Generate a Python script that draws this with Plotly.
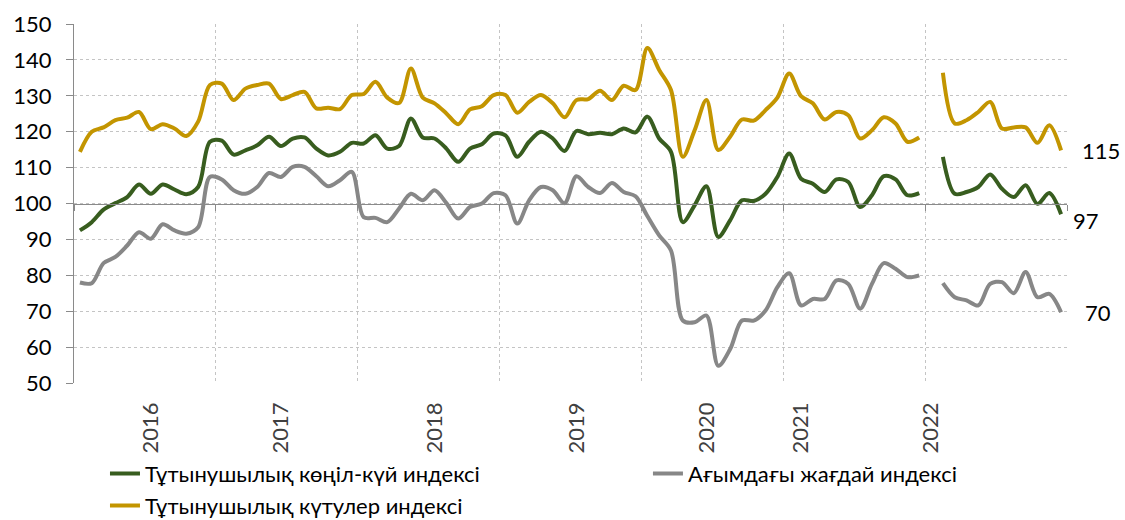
import plotly.graph_objects as go

# Monthly index positions (Jan 2016 .. Dec 2022)
months = list(range(84))

year_label_pos = [6, 17, 30, 42, 53, 61, 72]
year_labels = ["2016", "2017", "2018", "2019", "2020", "2021", "2022"]
year_bounds = [-0.5, 11.5, 23.5, 35.5, 47.5, 59.5, 71.5, 83.5]

sentiment = [
    92.5, 94.8, 98.3, 100.1, 101.8, 105.3, 102.7, 105.3, 103.9, 102.6, 104.6, 117.2,
    117.5, 113.6, 114.8, 116.2, 118.6, 116.0, 118.1, 118.4, 115.3, 113.4, 114.4, 116.9,
    116.7, 119.0, 115.3, 116.0, 123.7, 118.4, 118.1, 115.3, 111.6, 115.3, 116.5, 119.5,
    119.0, 113.0, 117.2, 120.0, 118.1, 114.6, 120.2, 119.3, 119.7, 119.3, 120.9, 119.8,
    124.2, 118.1, 114.4, 94.8, 99.5, 104.8, 90.7, 95.3, 100.9, 100.7, 102.7, 107.4,
    113.9, 106.9, 105.5, 103.2, 106.7, 106.0, 99.0, 102.3, 107.6, 106.7, 102.3, 102.9,
    None, 113.0, 102.7, 103.2, 104.6, 108.1, 104.1, 101.8, 105.1, 99.9, 102.9, 97.0,
]

current = [
    78.0, 77.8, 83.4, 85.1, 88.3, 92.0, 90.2, 94.2, 92.5, 91.6, 93.4, 107.4,
    106.7, 103.7, 102.7, 104.6, 108.5, 107.4, 110.2, 110.2, 107.6, 104.8, 106.5, 108.8,
    96.2, 96.0, 94.8, 98.6, 102.7, 100.9, 103.7, 100.1, 95.8, 99.0, 100.0, 102.9,
    102.3, 94.4, 100.9, 104.6, 103.7, 100.1, 107.6, 104.6, 102.9, 105.7, 103.2, 102.0,
    96.5, 91.1, 86.9, 67.4, 66.9, 68.8, 54.8, 59.4, 67.4, 67.4, 70.2, 76.7,
    80.6, 71.6, 73.4, 73.4, 78.6, 77.6, 70.7, 77.6, 83.4, 81.8, 79.5, 80.0,
    None, 77.8, 73.9, 73.0, 71.6, 77.6, 78.1, 75.0, 80.9, 73.9, 74.8, 69.7,
]

expectations = [
    114.4, 120.0, 121.2, 123.2, 123.9, 125.5, 120.7, 122.1, 120.9, 118.8, 122.8, 133.0,
    133.4, 128.8, 132.0, 133.0, 133.4, 129.1, 130.2, 131.1, 126.5, 126.7, 126.3, 130.2,
    130.5, 133.9, 129.5, 128.0, 137.6, 129.5, 127.9, 125.1, 122.1, 126.2, 127.1, 130.2,
    130.2, 125.3, 128.3, 130.2, 127.9, 124.0, 128.8, 129.1, 131.4, 128.8, 132.8, 131.6,
    143.3, 137.2, 131.6, 113.0, 120.4, 128.8, 114.9, 118.6, 123.4, 123.1, 126.0, 129.5,
    136.2, 129.9, 127.9, 123.4, 125.5, 124.6, 118.1, 120.4, 124.0, 122.3, 117.2, 118.4,
    None, 136.4, 122.3, 123.2, 125.5, 128.3, 120.9, 121.2, 121.2, 116.9, 121.8, 114.8,
]

end_labels = ["115", "97", "70"]
end_label_y = [114.8, 95.3, 69.6]
end_label_x = [1.034, 1.019, 1.031]

series_names = [
    "Тұтынушылық көңіл-күй индексі",
    "Ағымдағы жағдай индексі",
    "Тұтынушылық күтулер индексі",
]
colors = ["#385D1F", "#878787", "#C39500"]
series_axes = ["x", "x", "x2"]
series_legends = ["legend", "legend2", "legend3"]
legend_x = [0.0312, 0.578, 0.0312]
legend_y = [-0.194, -0.194, -0.283]

FONT = "Lato, 'Open Sans', sans-serif"

fig = go.Figure()
for name, vals, col, ax, lg in zip(series_names, [sentiment, current, expectations],
                                   colors, series_axes, series_legends):
    fig.add_trace(go.Scatter(
        x=months, y=vals, name=name, mode="lines", xaxis=ax, legend=lg,
        line=dict(color=col, width=4, shape="spline", smoothing=0.9),
        connectgaps=False,
    ))

for txt, yv, xv in zip(end_labels, end_label_y, end_label_x):
    fig.add_annotation(
        text=txt, x=xv, y=yv, xref="paper", yref="y", showarrow=False,
        xanchor="center", yanchor="middle",
        font=dict(family=FONT, size=22, color="#000000"),
    )

legends = {}
for lg, lx, ly in zip(series_legends, legend_x, legend_y):
    legends[lg] = dict(
        x=lx, y=ly, orientation="h", xanchor="left", yanchor="top",
        font=dict(family=FONT, size=22, color="#000000"),
        itemwidth=30, bgcolor="rgba(0,0,0,0)",
    )

fig.update_layout(
    width=1125, height=520,
    margin=dict(l=74, r=58, t=24, b=137, autoexpand=False),
    paper_bgcolor="white", plot_bgcolor="white",
    font=dict(family=FONT, color="#000000"),
    showlegend=True,
    **legends,
    xaxis=dict(
        range=[-0.5, 83.5], automargin=False,
        tickmode="array", tickvals=year_label_pos, ticktext=year_labels,
        tickangle=-90, showgrid=False, showline=False, zeroline=False,
        ticks="", ticklabelstandoff=14,
        tickfont=dict(family=FONT, size=22, color="#404040"),
    ),
    xaxis2=dict(
        range=[-0.5, 83.5], overlaying="x", anchor="free", position=0.5,
        tickmode="array", tickvals=year_bounds, automargin=False,
        showgrid=True, gridcolor="#C4C4C4", griddash="dot", gridwidth=1,
        showline=True, linecolor="#8A8A8A", linewidth=1.3,
        ticks="outside", ticklen=6, tickcolor="#8A8A8A",
        showticklabels=False, zeroline=False,
    ),
    yaxis=dict(
        range=[50, 150], tickmode="linear", tick0=50, dtick=10, automargin=False,
        showgrid=True, gridcolor="#C4C4C4", griddash="dot", gridwidth=1,
        showline=True, linecolor="#8A8A8A", linewidth=1.3,
        ticks="outside", ticklen=7, tickcolor="#8A8A8A",
        zeroline=False, ticklabelstandoff=10,
        tickfont=dict(family=FONT, size=22, color="#000000"),
    ),
)

fig.write_html(
    "out.html",
    config={"displayModeBar": False},
    post_script="document.body.style.margin='0';document.body.style.overflow='hidden';",
)
